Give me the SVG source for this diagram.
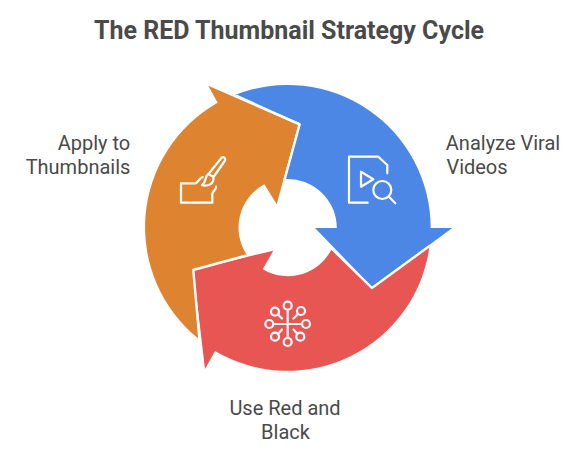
<svg xmlns="http://www.w3.org/2000/svg" width="588" height="456" viewBox="0 0 588 456">
<style>
.t{font-family:Roboto,"Liberation Sans",sans-serif;fill:#4a4a4a}
.l{font-size:20px;text-anchor:middle}
.i{fill:none;stroke:#fff;stroke-width:2.200;stroke-linecap:round;stroke-linejoin:round}
.g{fill:none;stroke:#fff;stroke-width:2.400;stroke-linejoin:miter}
</style>
<rect width="588" height="456" fill="#fff"/>
<text id="title" class="t" x="289" y="39" font-size="25" font-weight="700" text-anchor="middle">The RED Thumbnail Strategy Cycle</text>
<g id="connectors"/>
<g id="node-analyze">
<path fill="#4d87e6" d="M235 95A143 143 0 0 1 430.700 228H452.300L372 287L315 228H336.800A49 49 0 0 0 285 179.100L300 123Z"/>
<path class="i" d="M367.700 202.700H349V156.700H378.300L387.300 165V173.300M361 171.700V186.700L373.300 179.300ZM390 197.700L395.300 203.300"/>
<circle class="i" cx="382.300" cy="190" r="9"/>
<text class="t l" x="503" y="150">Analyze Viral</text>
<text class="t l" x="477" y="174">Videos</text>
</g>
<g id="node-apply">
<path fill="#de8431" d="M208.300 85.700L298.300 125L276.700 204.300L264.300 184.300A49 49 0 0 0 247 255L194 270L199.300 339.300A143 143 0 0 1 217.700 102.700Z"/>
<path class="g" d="M236 95.500L299.600 124.500L284.500 180"/>
<path class="i" d="M202.700 177C199 178 198 183.300 195 183.300H181V202.700H212.300V194C213 190 216 191 216 186.700M222 157.300C224 156.800 226 158.500 225 160.500L213.500 177L208.500 174ZM207.800 174.500C204.500 177 207 181 202 185C208 186.800 214 184 213.500 177.500"/>
<text class="t l" x="94" y="150">Apply to</text>
<text class="t l" x="78" y="174">Thumbnails</text>
</g>
<g id="node-red">
<path fill="#e85654" d="M193.300 270L273.300 250.700L262.700 269.300A49 49 0 0 0 331.700 249L372 287L429.500 246A143 143 0 0 1 215 351L205 369Z"/>
<path class="g" d="M199.500 340L193.300 270L246.500 255.500"/>
<path class="g" d="M331 248L372 288L429.500 246"/>
<path class="i" d="M287.700 310V338M273.700 324H301.700M282 318.500L278 314.500M293.500 318.500L298 314M282 329.500L278 334M293.500 329.500L297.500 334"/>
<g class="i"><circle cx="287.700" cy="305.700" r="4"/><circle cx="301" cy="311" r="4"/><circle cx="306" cy="324" r="4"/><circle cx="300.300" cy="336.700" r="4"/><circle cx="287.700" cy="342" r="4"/><circle cx="275" cy="336.700" r="4"/><circle cx="269.300" cy="324" r="4"/><circle cx="275" cy="311.700" r="4"/></g>
<text class="t l" x="285" y="415">Use Red and</text>
<text class="t l" x="285.500" y="439">Black</text>
</g>
</svg>
